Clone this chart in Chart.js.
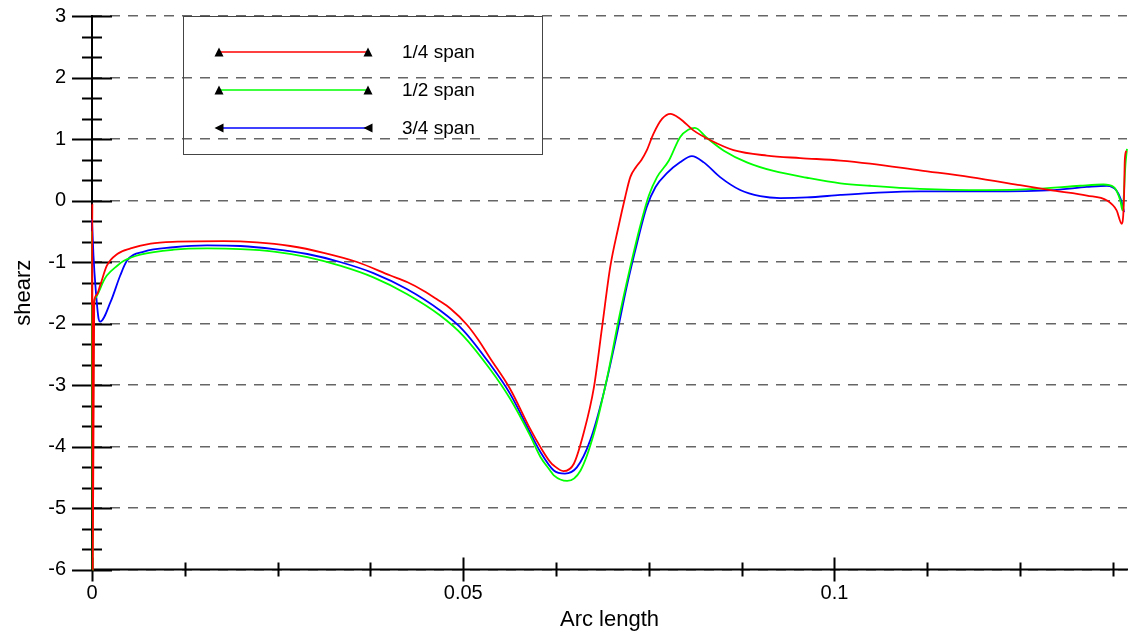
<!DOCTYPE html>
<html>
<head>
    <title>shearz vs Arc length</title>
    <script src="https://cdn.jsdelivr.net/npm/chart.js"></script>
    <style>
        body { margin: 0; background: #fff; }
    </style>
</head>
<body>
    <canvas id="shearChart" width="1128" height="635"></canvas>
    <script>
        // series names, colours and legend marker direction
        const seriesLabels = ['1/4 span', '1/2 span', '3/4 span'];
        const seriesColors = ['#ff0000', '#00ff00', '#0000ff'];
        const legendMarkers = ['up', 'up', 'left'];

        // axis range and tick spacing
        const xMin = 0, xMax = 0.1394, xMajorStep = 0.05, xMinorStep = 0.0125;
        const yMin = -6, yMax = 3, yMajorStep = 1, yMinorStep = 1 / 3;

        // 1/4 span
        const arcQuarter = [0, 0.00005, 0.0001, 0.0003, 0.0006, 0.0011, 0.0020, 0.0034, 0.0052, 0.0079,
            0.0115, 0.0177, 0.0222, 0.0267, 0.0312, 0.0357, 0.0402, 0.0425, 0.0447, 0.0465,
            0.0483, 0.0505, 0.0520, 0.0536, 0.0563, 0.0590, 0.0604, 0.0617, 0.0622, 0.0635,
            0.0649, 0.0662, 0.0676, 0.0687, 0.0698, 0.0709, 0.0718, 0.0725, 0.0733, 0.0740,
            0.0747, 0.0756, 0.0768, 0.0779, 0.0792, 0.0810, 0.0833, 0.0864, 0.0909, 0.0954,
            0.1008, 0.1048, 0.1115, 0.1183, 0.1250, 0.1295, 0.1340, 0.1367, 0.1380, 0.1387,
            0.1390, 0.1391, 0.1393];
        const shearQuarter = [-1.7, -0.05, -6, -1.65, -1.54, -1.38, -1.06, -0.87, -0.78, -0.70,
            -0.67, -0.66, -0.68, -0.74, -0.85, -1.00, -1.22, -1.33, -1.47, -1.61,
            -1.76, -2.02, -2.26, -2.56, -3.06, -3.71, -4.01, -4.25, -4.31, -4.40,
            -4.28, -3.79, -3.04, -2.06, -1.08, -0.43, 0.05, 0.38, 0.55, 0.66,
            0.81, 1.08, 1.33, 1.41, 1.33, 1.14, 0.98, 0.82, 0.73, 0.69,
            0.65, 0.60, 0.49, 0.38, 0.25, 0.16, 0.08, 0.0, -0.16, -0.38,
            0.05, 0.65, 0.81];

        // 1/2 span
        const arcHalf = [0, 0.00008, 0.0002, 0.0004, 0.0007, 0.0016, 0.0020, 0.0034, 0.0043, 0.0065,
            0.0110, 0.0155, 0.0200, 0.0245, 0.0290, 0.0334, 0.0379, 0.0424, 0.0469, 0.0500,
            0.0536, 0.0563, 0.0590, 0.0604, 0.0617, 0.0622, 0.0640, 0.0658, 0.0676, 0.0694,
            0.0711, 0.0725, 0.0738, 0.0750, 0.0761, 0.0777, 0.0792, 0.0803, 0.0812, 0.0828,
            0.0851, 0.0882, 0.0918, 0.0963, 0.1008, 0.1048, 0.1115, 0.1205, 0.1273, 0.1331,
            0.1362, 0.1376, 0.1385, 0.1388, 0.1392, 0.1394];
        const shearHalf = [-0.5, -6, -1.9, -1.6, -1.54, -1.30, -1.22, -1.06, -0.98, -0.88,
            -0.80, -0.78, -0.79, -0.83, -0.92, -1.06, -1.25, -1.52, -1.87, -2.20,
            -2.74, -3.22, -3.82, -4.17, -4.39, -4.47, -4.56, -4.39, -3.79, -2.87,
            -1.84, -1.08, -0.43, 0.08, 0.38, 0.65, 1.03, 1.15, 1.18, 1.02,
            0.81, 0.62, 0.48, 0.37, 0.28, 0.24, 0.19, 0.17, 0.19, 0.24,
            0.26, 0.22, 0.0, -0.16, 0.60, 0.84];

        // 3/4 span
        const arcThreeQuarter = [0, 0.0002, 0.0005, 0.0009, 0.0011, 0.0025, 0.0038, 0.0047, 0.0070, 0.0110,
            0.0155, 0.0200, 0.0245, 0.0290, 0.0334, 0.0379, 0.0424, 0.0469, 0.0500, 0.0536,
            0.0563, 0.0590, 0.0604, 0.0622, 0.0637, 0.0653, 0.0671, 0.0689, 0.0707, 0.0720,
            0.0734, 0.0747, 0.0759, 0.0774, 0.0792, 0.0808, 0.0824, 0.0846, 0.0873, 0.0900,
            0.0927, 0.0963, 0.1008, 0.1048, 0.1115, 0.1205, 0.1295, 0.1340, 0.1367, 0.1380,
            0.1387, 0.1390];
        const shearThreeQuarter = [-0.3, -0.9, -1.45, -1.93, -1.97, -1.65, -1.22, -0.98, -0.83, -0.76,
            -0.73, -0.74, -0.79, -0.87, -1.00, -1.18, -1.44, -1.79, -2.11, -2.66,
            -3.14, -3.77, -4.09, -4.39, -4.44, -4.34, -3.90, -3.14, -2.17, -1.41,
            -0.70, -0.11, 0.22, 0.44, 0.62, 0.72, 0.62, 0.38, 0.17, 0.07,
            0.04, 0.05, 0.09, 0.12, 0.15, 0.15, 0.17, 0.22, 0.24, 0.16,
            -0.03, -0.19];

        const arcSeries = [arcQuarter, arcHalf, arcThreeQuarter];
        const shearSeries = [shearQuarter, shearHalf, shearThreeQuarter];

        const font = 'Liberation Sans, Arial, sans-serif';

        // black axis lines with major/minor ticks on both sides
        const axisTicks = {
            id: 'axisTicks',
            beforeDatasetsDraw(chart) {
                const {ctx, chartArea, scales: {x, y}} = chart;
                const x0 = x.getPixelForValue(xMin);
                const yb = y.getPixelForValue(yMin);
                ctx.save();
                ctx.strokeStyle = '#000';
                ctx.lineWidth = 2;
                ctx.beginPath();
                ctx.moveTo(x0, y.getPixelForValue(yMax) - 1);
                ctx.lineTo(x0, yb);
                ctx.moveTo(x0, yb);
                ctx.lineTo(chartArea.right + 2, yb);
                // y ticks
                const nY = Math.round((yMax - yMin) / yMinorStep);
                for (let i = 0; i <= nY; i++) {
                    const v = yMin + i * yMinorStep;
                    const major = i % 3 === 0;
                    const py = Math.round(y.getPixelForValue(v)) + 0.5;
                    const len = major ? 20 : 10;
                    ctx.moveTo(x0 - len, py);
                    ctx.lineTo(x0 + len, py);
                }
                // x ticks
                const nX = Math.floor((xMax - xMin) / xMinorStep + 1e-6);
                for (let i = 0; i <= nX; i++) {
                    const v = xMin + i * xMinorStep;
                    const major = i % 4 === 0;
                    const px = Math.round(x.getPixelForValue(v)) + 0.5;
                    const len = major ? 12 : 7;
                    ctx.moveTo(px, yb - len);
                    ctx.lineTo(px, yb + len);
                }
                ctx.stroke();
                ctx.restore();
            }
        };

        // boxed legend: line with a marker at each end, label to the right
        function drawMarker(ctx, cx, cy, dir) {
            const s = 4.5;
            ctx.beginPath();
            if (dir === 'left') {
                ctx.moveTo(cx - s, cy);
                ctx.lineTo(cx + s, cy - s);
                ctx.lineTo(cx + s, cy + s);
            } else {
                ctx.moveTo(cx, cy - s);
                ctx.lineTo(cx + s, cy + s);
                ctx.lineTo(cx - s, cy + s);
            }
            ctx.closePath();
            ctx.fill();
        }

        const boxLegend = {
            id: 'boxLegend',
            afterDatasetsDraw(chart) {
                const ctx = chart.ctx;
                ctx.save();
                ctx.strokeStyle = '#444';
                ctx.lineWidth = 1;
                ctx.strokeRect(183.5, 16.5, 359, 138);
                chart.data.datasets.forEach((ds, i) => {
                    const ly = 52 + i * 38;
                    ctx.strokeStyle = ds.borderColor;
                    ctx.lineWidth = 1.5;
                    ctx.beginPath();
                    ctx.moveTo(219, ly);
                    ctx.lineTo(368, ly);
                    ctx.stroke();
                    ctx.fillStyle = '#000';
                    drawMarker(ctx, 219, ly, legendMarkers[i]);
                    drawMarker(ctx, 368, ly, legendMarkers[i]);
                    ctx.font = '19px ' + font;
                    ctx.textBaseline = 'middle';
                    ctx.fillText(ds.label, 402, ly + 1);
                });
                ctx.restore();
            }
        };

        const datasets = seriesLabels.map((label, i) => ({
            label: label,
            data: arcSeries[i].map((a, j) => ({x: a, y: shearSeries[i][j]})),
            borderColor: seriesColors[i],
            borderWidth: 1.8,
            pointRadius: 0,
            cubicInterpolationMode: 'monotone',
            clip: 6
        }));

        const ctx = document.getElementById('shearChart').getContext('2d');
        const shearChart = new Chart(ctx, {
            type: 'line',
            data: { datasets: datasets },
            options: {
                responsive: false,
                animation: false,
                layout: { padding: { top: 16, right: 1, left: 0, bottom: 0 } },
                plugins: {
                    legend: { display: false },
                    tooltip: { enabled: false }
                },
                scales: {
                    x: {
                        type: 'linear',
                        min: xMin,
                        max: xMax,
                        afterFit: s => {
                            s.height = 65.5;
                            s.paddingLeft = 0;
                            s.paddingRight = 0;
                        },
                        grid: { display: false, drawTicks: false },
                        border: { display: false },
                        ticks: {
                            stepSize: xMajorStep,
                            includeBounds: false,
                            padding: 12,
                            color: '#000',
                            font: { family: font, size: 20 },
                            callback: v => String(Number(v.toFixed(4)))
                        },
                        title: {
                            display: true,
                            text: 'Arc length',
                            color: '#000',
                            font: { family: font, size: 22 },
                            padding: { top: 0, bottom: 2 }
                        }
                    },
                    y: {
                        min: yMin,
                        max: yMax,
                        afterFit: s => {
                            s.width = 92;
                            s.paddingTop = 0;
                            s.paddingBottom = 0;
                        },
                        grid: {
                            color: '#666666',
                            lineWidth: 1.5,
                            drawTicks: false
                        },
                        border: { display: false, dash: [10, 8] },
                        ticks: {
                            stepSize: yMajorStep,
                            padding: 26,
                            color: '#000',
                            font: { family: font, size: 20 }
                        },
                        title: {
                            display: true,
                            text: 'shearz',
                            color: '#000',
                            font: { family: font, size: 22 },
                            padding: { top: 11, bottom: 0 }
                        }
                    }
                }
            },
            plugins: [axisTicks, boxLegend]
        });
    </script>
</body>
</html>
